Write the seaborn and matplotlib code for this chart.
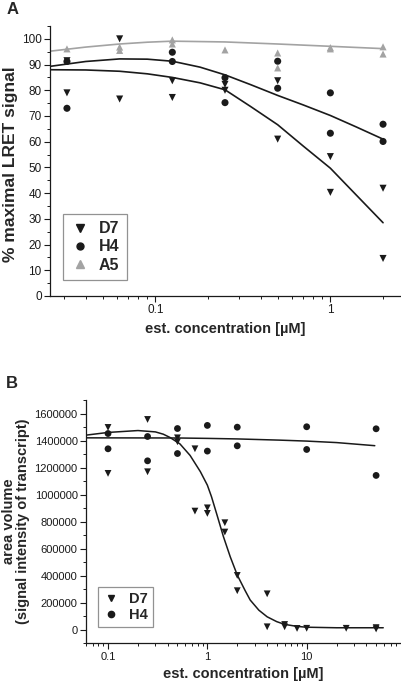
import numpy as np
import pandas as pd
import seaborn as sns
import matplotlib.pyplot as plt
from matplotlib.ticker import FixedLocator, MultipleLocator, LogLocator, NullFormatter, FuncFormatter
from matplotlib.lines import Line2D

# ─── DATA: panel A (LRET) ─────────────────────────────
a_d7_x = [0.03125, 0.03125, 0.0625, 0.0625, 0.125, 0.125, 0.25, 0.25, 0.5, 0.5, 1, 1, 2, 2]
a_d7_y = [91.5, 79, 100, 76.6, 83.7, 77.2, 82.3, 80, 83.7, 61, 54.2, 40.3, 41.9, 14.6]
a_h4_x = [0.03125, 0.03125, 0.125, 0.125, 0.25, 0.25, 0.5, 0.5, 1, 1, 2, 2]
a_h4_y = [91.2, 73, 94.8, 91.2, 84.9, 75.2, 91.3, 80.8, 79, 63.3, 66.8, 60.1]
a_a5_x = [0.03125, 0.0625, 0.0625, 0.125, 0.125, 0.25, 0.5, 0.5, 1, 1, 2, 2]
a_a5_y = [96.1, 96.8, 95.5, 99.6, 98, 95.7, 94.5, 88.7, 96.6, 96.1, 96.9, 94.1]

# fitted curves
a_fit_d7_x = [0.025, 0.04, 0.0625, 0.09, 0.125, 0.18, 0.25, 0.35, 0.5, 0.7, 1, 1.4, 2]
a_fit_d7_y = [88, 87.9, 87.4, 86.4, 85, 82.9, 80.2, 73.7, 66.6, 58.3, 49.7, 39.4, 28.5]
a_fit_h4_x = [0.025, 0.04, 0.0625, 0.09, 0.125, 0.18, 0.25, 0.35, 0.5, 0.7, 1, 1.4, 2]
a_fit_h4_y = [89.3, 91.2, 92.2, 92.1, 91.3, 89, 86, 82.2, 78, 74.3, 70.2, 65.8, 61]
a_fit_a5_x = [0.025, 0.04, 0.0625, 0.09, 0.125, 0.25, 0.5, 1, 2]
a_fit_a5_y = [95.2, 96.8, 98, 98.7, 99.1, 98.8, 98, 97.1, 96.2]

# ─── DATA: panel B (transcript) ───────────────────────
b_d7_x = [0.1, 0.1, 0.25, 0.25, 0.5, 0.5, 0.75, 0.75, 1, 1, 1.5, 1.5, 2, 2,
          4, 4, 6, 6, 8, 10, 25, 50, 50]
b_d7_y = [1497000, 1157000, 1556000, 1169000, 1420000, 1391000, 1339000, 878000,
          902000, 861000, 792000, 723000, 402000, 289000, 266000, 22000,
          39000, 22000, 10000, 11000, 11000, 16000, 6000]
b_h4_x = [0.1, 0.1, 0.25, 0.25, 0.5, 0.5, 1, 1, 2, 2, 10, 10, 50, 50]
b_h4_y = [1452000, 1339000, 1430000, 1250000, 1489000, 1304000, 1512000, 1322000,
          1499000, 1361000, 1502000, 1334000, 1487000, 1142000]

b_fit_d7_x = [0.06, 0.1, 0.2, 0.3, 0.36, 0.42, 0.53, 0.67, 0.85, 1.0, 1.1, 1.25, 1.45,
              1.7, 2, 2.4, 2.7, 3.3, 4, 5, 6, 8, 10, 20, 59]
b_fit_d7_y = [1440000, 1460000, 1474000, 1464000, 1447000, 1423000, 1375000, 1290000,
              1170000, 1070000, 985000, 850000, 690000, 540000, 405000, 290000,
              220000, 145000, 96000, 60000, 40000, 25000, 19000, 15000, 15000]
b_fit_h4_x = [0.06, 0.5, 1, 2, 5.4, 10, 20, 48.5]
b_fit_h4_y = [1420000, 1419000, 1416000, 1412000, 1403000, 1396000, 1385000, 1362000]

# ─── STYLE ────────────────────────────────────────────
sns.set_style("ticks")
plt.rcParams['font.family'] = ['Liberation Sans', 'DejaVu Sans']

DARK = "#1a1a1a"
GRAY = "#a3a3a3"

fig = plt.figure(figsize=(4.02, 6.83), dpi=100)
ax_a = fig.add_axes([50 / 402, 1 - 296 / 683, 350 / 402, 270 / 683])
ax_b = fig.add_axes([86 / 402, 1 - 643.3 / 683, 314 / 402, 243.3 / 683])


def style_axes(ax, tick_size):
    sns.despine(ax=ax)
    for s in ["left", "bottom"]:
        ax.spines[s].set_linewidth(0.9)
        ax.spines[s].set_color(DARK)
    ax.tick_params(which="major", direction="out", length=4, width=0.8,
                   labelsize=tick_size, colors=DARK, pad=2)
    ax.tick_params(which="minor", direction="out", length=2.2, width=0.7, colors=DARK)
    ax.set_facecolor("white")


# ─── PANEL A ──────────────────────────────────────────
df_a = pd.concat([
    pd.DataFrame({"x": a_d7_x, "y": a_d7_y, "s": "D7"}),
    pd.DataFrame({"x": a_h4_x, "y": a_h4_y, "s": "H4"}),
    pd.DataFrame({"x": a_a5_x, "y": a_a5_y, "s": "A5"}),
])
sns.scatterplot(data=df_a, x="x", y="y", hue="s", style="s",
                palette={"D7": DARK, "H4": DARK, "A5": GRAY},
                markers={"D7": "v", "H4": "o", "A5": "^"},
                s=26, linewidth=0, ax=ax_a, legend=False, zorder=3)
sns.lineplot(x=a_fit_a5_x, y=a_fit_a5_y, color=GRAY, lw=1.2, ax=ax_a, sort=False)
sns.lineplot(x=a_fit_h4_x, y=a_fit_h4_y, color=DARK, lw=1.2, ax=ax_a, sort=False)
sns.lineplot(x=a_fit_d7_x, y=a_fit_d7_y, color=DARK, lw=1.2, ax=ax_a, sort=False)

ax_a.set_xscale("log")
ax_a.set_xlim(0.025, 2.5)
ax_a.set_ylim(0, 105)
ax_a.yaxis.set_major_locator(MultipleLocator(10))
ax_a.yaxis.set_minor_locator(MultipleLocator(5))
ax_a.xaxis.set_major_locator(FixedLocator([0.1, 1]))
ax_a.xaxis.set_major_formatter(FuncFormatter(lambda v, p: f"{v:g}"))
ax_a.xaxis.set_minor_locator(LogLocator(base=10, subs=np.arange(2, 10)))
ax_a.xaxis.set_minor_formatter(NullFormatter())
style_axes(ax_a, 8.5)
ax_a.set_xlabel("est. concentration [µM]", fontsize=10.5, fontweight="bold", labelpad=4)
ax_a.set_ylabel("% maximal LRET signal", fontsize=12.5, fontweight="bold")
ax_a.yaxis.set_label_coords(-0.09, 0.49)

handles_a = [
    Line2D([], [], ls="", marker="v", color=DARK, ms=5.5, label="D7"),
    Line2D([], [], ls="", marker="o", color=DARK, ms=5, label="H4"),
    Line2D([], [], ls="", marker="^", color=GRAY, ms=5.5, label="A5"),
]
leg = ax_a.legend(handles=handles_a, loc="lower left", bbox_to_anchor=(0.037, 0.06),
                  prop={"weight": "bold", "size": 11.5}, frameon=True, fancybox=False,
                  handlelength=1.2, handletextpad=0.6, labelspacing=0.2,
                  borderpad=0.45, borderaxespad=0)
leg.get_frame().set_edgecolor("#777777")
leg.get_frame().set_linewidth(0.9)

# ─── PANEL B ──────────────────────────────────────────
df_b = pd.concat([
    pd.DataFrame({"x": b_d7_x, "y": b_d7_y, "s": "D7"}),
    pd.DataFrame({"x": b_h4_x, "y": b_h4_y, "s": "H4"}),
])
sns.scatterplot(data=df_b, x="x", y="y", hue="s", style="s",
                palette={"D7": DARK, "H4": DARK},
                markers={"D7": "v", "H4": "o"},
                s=24, linewidth=0, ax=ax_b, legend=False, zorder=3)
sns.lineplot(x=b_fit_h4_x, y=b_fit_h4_y, color=DARK, lw=1.1, ax=ax_b, sort=False)
sns.lineplot(x=b_fit_d7_x, y=b_fit_d7_y, color=DARK, lw=1.1, ax=ax_b, sort=False)

ax_b.set_xscale("log")
ax_b.set_xlim(0.06, 87)
ax_b.set_ylim(-100000, 1700000)
ax_b.yaxis.set_major_locator(FixedLocator(np.arange(0, 1600001, 200000)))
ax_b.yaxis.set_major_formatter(FuncFormatter(lambda v, p: f"{int(v)}"))
ax_b.yaxis.set_minor_locator(MultipleLocator(100000))
ax_b.xaxis.set_major_locator(FixedLocator([0.1, 1, 10]))
ax_b.xaxis.set_major_formatter(FuncFormatter(lambda v, p: f"{v:g}"))
ax_b.xaxis.set_minor_locator(LogLocator(base=10, subs=np.arange(2, 10)))
ax_b.xaxis.set_minor_formatter(NullFormatter())
style_axes(ax_b, 8)
ax_b.set_xlabel("est. concentration [µM]", fontsize=10.5, fontweight="bold", labelpad=4)
ax_b.set_ylabel("area volume\n(signal intensity of transcript)", fontsize=10.5,
                fontweight="bold", labelpad=3, linespacing=1.0)

handles_b = [
    Line2D([], [], ls="", marker="v", color=DARK, ms=5, label="D7"),
    Line2D([], [], ls="", marker="o", color=DARK, ms=4.5, label="H4"),
]
leg_b = ax_b.legend(handles=handles_b, loc="lower left", bbox_to_anchor=(0.037, 0.066),
                    prop={"weight": "bold", "size": 10.5}, frameon=True, fancybox=False,
                    handlelength=1.2, handletextpad=0.6, labelspacing=0.15,
                    borderpad=0.35, borderaxespad=0)
leg_b.get_frame().set_edgecolor("#777777")
leg_b.get_frame().set_linewidth(0.9)

# panel letters
fig.text(7 / 402, 1 - 14 / 683, "A", fontsize=12, fontweight="bold")
fig.text(6 / 402, 1 - 388 / 683, "B", fontsize=12, fontweight="bold")

fig.savefig("out.png", dpi=100, facecolor="white")
